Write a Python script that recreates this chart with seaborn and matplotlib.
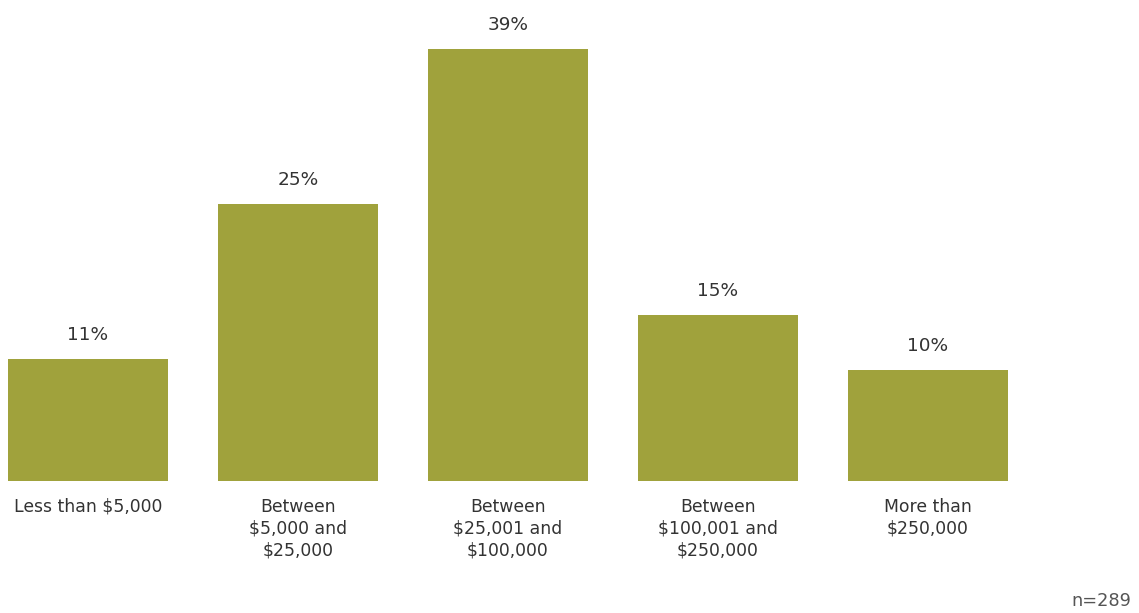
import matplotlib
matplotlib.use("Agg")
import matplotlib.pyplot as plt
import seaborn as sns
import pandas as pd

categories = [
    "Less than $5,000",
    "Between\n$5,000 and\n$25,000",
    "Between\n$25,001 and\n$100,000",
    "Between\n$100,001 and\n$250,000",
    "More than\n$250,000",
]
shares = [11, 25, 39, 15, 10]
sample_note = "n=289"

bar_color = "#A0A23C"
text_color = "#333333"

sns.set_theme(style="white")
plt.rcParams["font.family"] = ["DejaVu Sans"]

df = pd.DataFrame({"category": categories, "share": shares})

fig = plt.figure(figsize=(11.39, 6.13), dpi=100)
ax = fig.add_axes([0, 132 / 613, 1, 481 / 613])

sns.barplot(data=df, x="category", y="share", color=bar_color,
            saturation=1, width=160 / 210, linewidth=0, ax=ax)

# pixel-based scale: 210 px per category, first bar centred at x=88 px
ax.set_xlim(-88 / 210, (1139 - 88) / 210)
px_per_unit = 432 / 39
ax.set_ylim(0, 481 / px_per_unit)

for i, v in enumerate(shares):
    ax.text(i, v + 15 / px_per_unit, f"{v}%", ha="center", va="bottom",
            fontsize=13.3, color=text_color)

for i, c in enumerate(categories):
    ax.text(i, -17 / px_per_unit, c, ha="center", va="top",
            fontsize=12.4, color=text_color, linespacing=1.26)

fig.text(1131 / 1139, 1 - 601 / 613, sample_note, ha="right", va="center",
         fontsize=12.8, color="#555555")

ax.set_xlabel("")
ax.set_ylabel("")
ax.set_xticks([])
ax.set_yticks([])
for s in ax.spines.values():
    s.set_visible(False)

fig.savefig("out.png", dpi=100)
